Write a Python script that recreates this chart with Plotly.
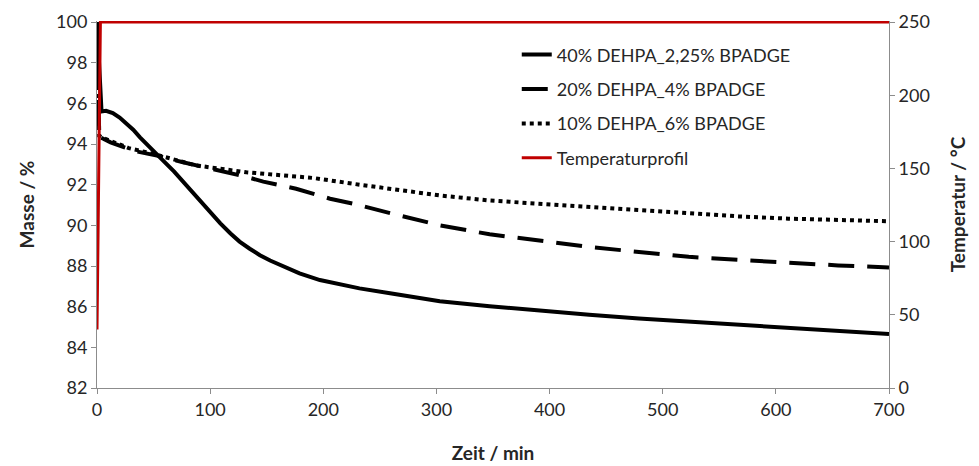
import plotly.graph_objects as go

# ---- data ----
solid_name = "40% DEHPA_2,25% BPADGE"
solid_t = [0, 4, 8, 14, 20, 26, 32, 38, 46, 53, 60, 68, 76, 84, 92, 100, 109, 118, 126, 135, 144, 153, 162,
           179, 197, 215, 232, 259, 303, 347, 391, 435, 479, 523, 567, 611, 655, 700]
solid_m = [100, 95.6, 95.63, 95.52, 95.3, 95.02, 94.7, 94.33, 93.9, 93.5, 93.1, 92.65, 92.15, 91.65, 91.1, 90.6,
           90.1, 89.6, 89.2, 88.85, 88.53, 88.27, 88.04, 87.64, 87.31, 87.08, 86.9, 86.66, 86.27, 86.02, 85.8,
           85.6, 85.42, 85.27, 85.1, 84.94, 84.8, 84.65]

dashed_name = "20% DEHPA_4% BPADGE"
dashed_t = [0, 2, 6, 12, 32, 53, 76, 100, 118, 131, 147, 176, 206, 229, 259, 303, 347, 391, 435, 479, 523,
            567, 611, 655, 700]
dashed_m = [100, 94.35, 94.25, 94.08, 93.67, 93.43, 93.1, 92.8, 92.6, 92.4, 92.15, 91.8, 91.31, 91.03, 90.6,
            90.0, 89.56, 89.25, 88.94, 88.69, 88.45, 88.3, 88.15, 88.03, 87.93]

dotted_name = "10% DEHPA_6% BPADGE"
dotted_t = [0, 2, 4.4, 28, 51, 87, 132, 171, 191, 232, 259, 303, 347, 391, 435, 479, 523, 567, 611, 655, 700]
dotted_m = [100, 94.4, 94.32, 93.8, 93.5, 92.95, 92.61, 92.42, 92.33, 92.0, 91.8, 91.47, 91.22, 91.06, 90.9,
            90.77, 90.57, 90.44, 90.33, 90.25, 90.2]

temp_name = "Temperaturprofil"
temp_t = [0, 3, 700]
temp_v = [40, 250, 250]

x_title = "Zeit / min"
y_title = "Masse / %"
y2_title = "Temperatur / °C"

FONT = "Lato, 'Open Sans', sans-serif"
AXIS_COLOR = "#8c8c8c"
TEXT_COLOR = "#262626"

fig = go.Figure()
fig.add_trace(go.Scatter(x=solid_t, y=solid_m, name=solid_name, mode="lines",
                         legendgroup="a", line=dict(color="black", width=4)))
fig.add_trace(go.Scatter(x=dashed_t, y=dashed_m, name=dashed_name, mode="lines",
                         legendgroup="b", line=dict(color="black", width=4, dash="26px,13px")))
fig.add_trace(go.Scatter(x=dotted_t, y=dotted_m, name=dotted_name, mode="lines",
                         legendgroup="c", line=dict(color="black", width=4, dash="4px,4px")))
fig.add_trace(go.Scatter(x=temp_t, y=temp_v, name=temp_name, mode="lines", yaxis="y2",
                         legendgroup="d", line=dict(color="#c00000", width=3)))

axis_common = dict(showgrid=False, zeroline=False, showline=True, linecolor=AXIS_COLOR,
                   linewidth=1, ticks="outside", tickcolor=AXIS_COLOR, ticklen=5,
                   tickfont=dict(family=FONT, size=18, color=TEXT_COLOR))
title_font = dict(family=FONT, size=19, color=TEXT_COLOR)

fig.update_layout(
    width=979, height=466,
    margin=dict(l=97, r=90, t=21, b=78, autoexpand=False),
    paper_bgcolor="white", plot_bgcolor="white",
    font=dict(family=FONT, color=TEXT_COLOR),
    xaxis=dict(range=[0, 700], tickvals=[0, 100, 200, 300, 400, 500, 600, 700],
               title=dict(text="<b>" + x_title + "</b>", font=title_font, standoff=28),
               **axis_common),
    yaxis=dict(range=[82, 100.05], tickvals=[82, 84, 86, 88, 90, 92, 94, 96, 98, 100],
               title=dict(text="<b>" + y_title + "</b>", font=title_font, standoff=16),
               **axis_common),
    yaxis2=dict(range=[0, 250.7], tickvals=[0, 50, 100, 150, 200, 250], overlaying="y", side="right",
                title=dict(text="<b>" + y2_title + "</b>", font=title_font, standoff=22),
                **axis_common),
    legend=dict(x=0.53, y=0.958, xanchor="left", yanchor="top", bgcolor="rgba(0,0,0,0)",
                font=dict(family=FONT, size=18, color=TEXT_COLOR), tracegroupgap=8),
    showlegend=True,
)

fig.write_html("out.html")
